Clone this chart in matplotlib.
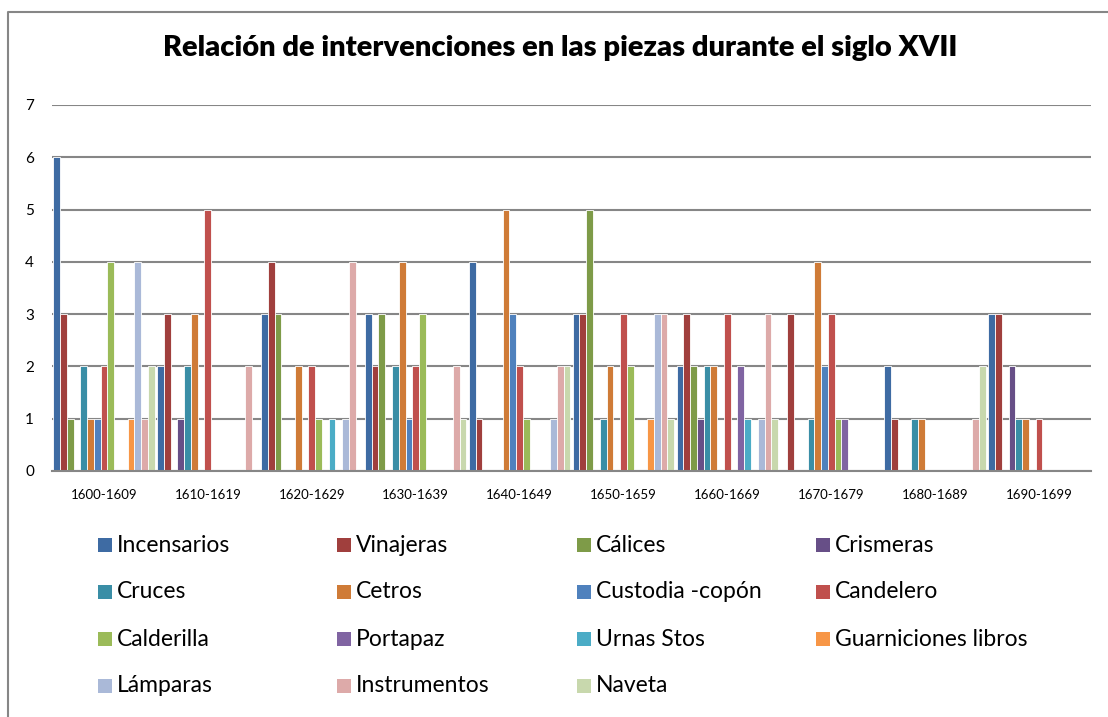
import matplotlib.pyplot as plt
import matplotlib.patches as mpatches
from matplotlib.lines import Line2D
import numpy as np

plt.rcParams["font.family"] = ["Lato", "DejaVu Sans"]

decades = ["1600-1609", "1610-1619", "1620-1629", "1630-1639", "1640-1649",
           "1650-1659", "1660-1669", "1670-1679", "1680-1689", "1690-1699"]

piezas = ["Incensarios", "Vinajeras", "Cálices", "Crismeras", "Cruces",
          "Cetros", "Custodia -copón", "Candelero", "Calderilla", "Portapaz",
          "Urnas Stos", "Guarniciones libros", "Lámparas", "Instrumentos", "Naveta"]

# intervenciones por década, una lista por pieza
incensarios = [6, 2, 3, 3, 4, 3, 2, 0, 2, 3]
vinajeras = [3, 3, 4, 2, 1, 3, 3, 3, 1, 3]
calices = [1, 0, 3, 3, 0, 5, 2, 0, 0, 0]
crismeras = [0, 1, 0, 0, 0, 0, 1, 0, 0, 2]
cruces = [2, 2, 0, 2, 0, 1, 2, 1, 1, 1]
cetros = [1, 3, 2, 4, 5, 2, 2, 4, 1, 1]
custodia = [1, 0, 0, 1, 3, 0, 0, 2, 0, 0]
candelero = [2, 5, 2, 2, 2, 3, 3, 3, 0, 1]
calderilla = [4, 0, 1, 3, 1, 2, 0, 1, 0, 0]
portapaz = [0, 0, 0, 0, 0, 0, 2, 1, 0, 0]
urnas = [0, 0, 1, 0, 0, 0, 1, 0, 0, 0]
guarniciones = [1, 0, 0, 0, 0, 1, 0, 0, 0, 0]
lamparas = [4, 0, 1, 0, 1, 3, 1, 0, 0, 0]
instrumentos = [1, 2, 4, 2, 2, 3, 3, 0, 1, 0]
naveta = [2, 0, 0, 1, 2, 1, 1, 0, 2, 0]

series = [incensarios, vinajeras, calices, crismeras, cruces, cetros, custodia,
          candelero, calderilla, portapaz, urnas, guarniciones, lamparas,
          instrumentos, naveta]

colores = ["#3E6BA3", "#A03F3D", "#7E9B48", "#674F87", "#3A8EA6", "#CF7B37",
           "#4F81BD", "#C0504D", "#9BBB59", "#8064A2", "#4BACC6", "#F79646",
           "#AAB9D8", "#DDAAA9", "#C8D8AD"]

fig = plt.figure(figsize=(11.08, 7.17), dpi=100)
ax = fig.add_axes([52 / 1108, 1 - 471 / 717, 1039 / 1108, 366 / 717])

x = np.arange(len(decades))
w = 1 / (15 + 0.36)
for j, (vals, col) in enumerate(zip(series, colores)):
    ax.bar(x + (j - 7) * w, vals, width=w, color=col, edgecolor="white",
           linewidth=0.6, zorder=3)

ax.set_xlim(-0.5, len(decades) - 0.5)
ax.set_ylim(0, 7)
ax.set_yticks(range(8))
ax.yaxis.grid(True, color="#868686", linewidth=1.5, zorder=0)
ax.set_xticks(x)
ax.set_xticklabels(decades, fontsize=9.5)
ax.tick_params(axis="x", length=0, pad=13)
ax.tick_params(axis="y", length=0, labelsize=11, pad=13)
for s in ["top", "right", "left"]:
    ax.spines[s].set_visible(False)
ax.spines["bottom"].set_color("#868686")
ax.spines["bottom"].set_linewidth(1.5)
ax.spines["bottom"].set_zorder(4)

fig.text(560 / 1108, 1 - 48 / 717,
         "Relación de intervenciones en las piezas durante el siglo XVII",
         ha="center", va="center", fontsize=21, fontweight="heavy")

# leyenda en cuatro columnas
col_x = [98, 337, 577, 816]
row_y = [545, 592, 639, 686]
for j, (nombre, col) in enumerate(zip(piezas, colores)):
    cx = col_x[j % 4]
    cy = row_y[j // 4]
    fig.patches.append(mpatches.Rectangle(
        (cx / 1108, 1 - (cy + 7) / 717), 14 / 1108, 14 / 717,
        transform=fig.transFigure, facecolor=col, edgecolor="none"))
    fig.text((cx + 19) / 1108, 1 - cy / 717, nombre, ha="left", va="center",
             fontsize=16.5)

# marco del área del gráfico
fig.add_artist(Line2D([8 / 1108, 8 / 1108, 1], [0, 1 - 12 / 717, 1 - 12 / 717],
                      transform=fig.transFigure, color="#868686", linewidth=1.5))

fig.savefig("out.png", dpi=100)
